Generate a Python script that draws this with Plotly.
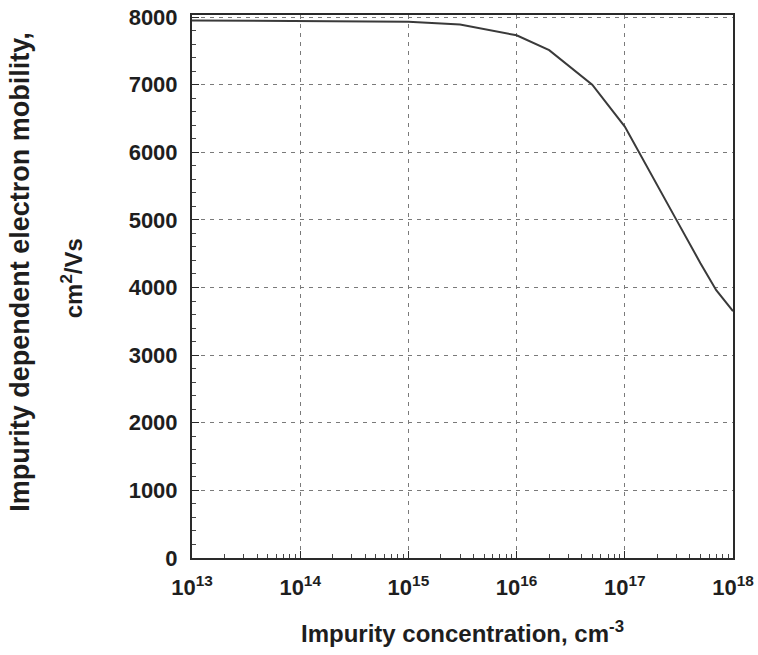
import plotly.graph_objects as go

# Impurity concentration (cm^-3) and electron mobility (cm^2/Vs)
concentration = [1e13, 1e14, 1e15, 3e15, 1e16, 2e16, 5e16, 1e17, 2e17, 3e17, 5e17, 7e17, 1e18]
mobility = [7950, 7945, 7930, 7890, 7730, 7510, 7000, 6380, 5500, 5000, 4360, 3960, 3650]

decade_vals = [1e13, 1e14, 1e15, 1e16, 1e17, 1e18]
decade_text = ["10<sup>13</sup>", "10<sup>14</sup>", "10<sup>15</sup>",
               "10<sup>16</sup>", "10<sup>17</sup>", "10<sup>18</sup>"]
y_ticks = [0, 1000, 2000, 3000, 4000, 5000, 6000, 7000, 8000]

FONT = "Liberation Sans"
INK = "#1e1e1e"

fig = go.Figure()
fig.add_trace(go.Scatter(
    x=concentration, y=mobility, mode="lines",
    line=dict(color="#3a3a3a", width=2),
    showlegend=False, hoverinfo="skip",
))

axis_common = dict(
    showline=True, mirror=True, linecolor="#2a2a2a", linewidth=2,
    showgrid=True, gridcolor="#7a7a7a", gridwidth=1, griddash="4px,5px",
    zeroline=False, ticks="inside", ticklen=7, tickcolor="#2a2a2a",
    tickfont=dict(family=FONT, size=22, color=INK, weight="bold"),
    automargin=False,
)

fig.update_xaxes(
    type="log", range=[13, 18],
    tickvals=decade_vals, ticktext=decade_text,
    minor=dict(ticks="inside", ticklen=4, tickcolor="#444", dtick="D1", showgrid=False),
    ticklabelstandoff=9,
    title=dict(text="Impurity concentration, cm<sup>-3</sup>",
               font=dict(family=FONT, size=24, color=INK, weight="bold"),
               standoff=26),
    **axis_common,
)
fig.update_yaxes(
    range=[0, 8030], tickvals=y_ticks,
    minor=dict(ticks="inside", ticklen=4, tickcolor="#444", dtick=200, showgrid=False),
    ticklabelstandoff=8,
    **axis_common,
)

# Two-line vertical axis title
fig.add_annotation(
    text="Impurity dependent electron mobility,",
    xref="paper", yref="paper", x=-0.318, y=0.527,
    xanchor="center", yanchor="middle", textangle=-90, showarrow=False,
    font=dict(family=FONT, size=27, color=INK, weight="bold"),
)
fig.add_annotation(
    text="cm<sup>2</sup>/Vs",
    xref="paper", yref="paper", x=-0.222, y=0.515,
    xanchor="center", yanchor="middle", textangle=-90, showarrow=False,
    font=dict(family=FONT, size=24, color=INK, weight="bold"),
)

fig.update_layout(
    width=758, height=655,
    margin=dict(l=192, r=25, t=15, b=97),
    paper_bgcolor="white", plot_bgcolor="white",
)

fig.write_html("out.html")
